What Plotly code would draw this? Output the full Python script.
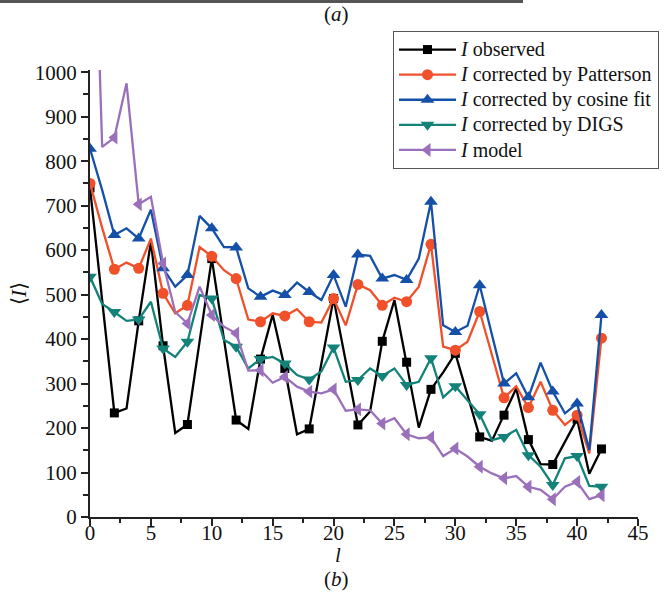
import plotly.graph_objects as go

# ---- data ----
l_vals = list(range(43))

I_observed = [740, 490, 234, 244, 441, 619, 385, 189, 208, 395,
              581, 400, 218, 198, 355, 455, 334, 186, 198, 345,
              491, 350, 207, 237, 395, 488, 348, 201, 287, 325,
              368, 275, 180, 171, 229, 289, 174, 119, 118, 169,
              220, 97, 153]

I_patterson = [750, 650, 557, 572, 559, 626, 503, 458, 476, 607,
               586, 555, 536, 444, 439, 458, 452, 467, 439, 437,
               491, 431, 523, 510, 476, 493, 484, 518, 613, 383,
               375, 394, 462, 365, 268, 294, 246, 304, 240, 207,
               229, 143, 402]

I_cosine = [828, 735, 634, 649, 626, 691, 559, 518, 544, 677,
            649, 607, 606, 514, 495, 509, 499, 527, 506, 488,
            544, 473, 590, 587, 536, 544, 533, 581, 709, 431,
            416, 430, 521, 410, 300, 323, 269, 347, 282, 233,
            255, 151, 454]

I_digs = [540, 479, 461, 441, 444, 484, 379, 360, 394, 499,
          491, 398, 383, 334, 355, 360, 345, 319, 309, 327,
          381, 304, 308, 334, 317, 334, 297, 304, 357, 269,
          294, 263, 231, 173, 180, 196, 139, 113, 72, 132,
          137, 70, 68]

I_model = [1700, 832, 853, 975, 703, 720, 570, 461, 435, 518,
           454, 428, 413, 329, 330, 302, 315, 293, 282, 278,
           287, 239, 242, 240, 210, 222, 186, 177, 179, 137,
           154, 136, 113, 98, 87, 92, 68, 61, 40, 68,
           79, 40, 49]

series_names = ["<i>I</i> observed",
                "<i>I</i> corrected by Patterson",
                "<i>I</i> corrected by cosine fit",
                "<i>I</i> corrected by DIGS",
                "<i>I</i> model"]
series_values = [I_observed, I_patterson, I_cosine, I_digs, I_model]
series_colors = ["#000000", "#F0502A", "#1450A8", "#138278", "#9B70BA"]
series_symbols = ["square", "circle", "triangle-up", "triangle-down", "triangle-left"]
series_msizes = [9, 11, 12, 12, 12]

x_ticks = [0, 5, 10, 15, 20, 25, 30, 35, 40, 45]
y_ticks = [0, 100, 200, 300, 400, 500, 600, 700, 800, 900, 1000]

FONT = "Liberation Serif"
W, H = 672, 596
L, R, T, B = 90, 34, 70, 79
PW, PH = W - L - R, H - T - B


def px_x(px):
    return (px - L) / PW


def px_y(py):
    return (H - B - py) / PH


fig = go.Figure()

for name, vals, col, sym, ms in zip(series_names, series_values, series_colors,
                                     series_symbols, series_msizes):
    # full line through every l
    fig.add_trace(go.Scatter(x=l_vals, y=vals, mode="lines",
                             line=dict(color=col, width=2.3),
                             showlegend=False, hoverinfo="skip"))
    # markers on even l
    fig.add_trace(go.Scatter(x=l_vals[::2], y=vals[::2], mode="markers",
                             marker=dict(symbol=sym, size=ms, color=col),
                             showlegend=False))
    # legend entry
    fig.add_trace(go.Scatter(x=[None], y=[None], mode="lines+markers",
                             name='<span style="font-size:20px">' + name + '</span>',
                             line=dict(color=col, width=2.3),
                             marker=dict(symbol=sym, size=ms, color=col)))

axis_common = dict(showline=True, linecolor="#222222", linewidth=2,
                   ticks="outside", ticklen=7, tickwidth=1.5, tickcolor="#222222",
                   showgrid=False, zeroline=False,
                   tickfont=dict(family=FONT, size=21, color="#111111"))

fig.update_xaxes(range=[0, 45], tickvals=x_ticks, ticklabelstandoff=-11,
                 minor=dict(dtick=2.5, ticklen=4, tickwidth=1.5, tickcolor="#222222",
                            ticks="outside", showgrid=False),
                 **axis_common)
fig.update_yaxes(range=[0, 1005], tickvals=y_ticks,
                 minor=dict(dtick=50, ticklen=5, tickwidth=1.5, tickcolor="#222222",
                            ticks="outside", showgrid=False),
                 **axis_common)

txt_font = dict(family=FONT, size=21, color="#111111")
annotations = [
    dict(text="(<i>a</i>)", x=px_x(336), y=px_y(14), xref="paper", yref="paper",
         xanchor="center", yanchor="middle", showarrow=False, font=txt_font),
    dict(text="(<i>b</i>)", x=px_x(336), y=px_y(579), xref="paper", yref="paper",
         xanchor="center", yanchor="middle", showarrow=False, font=txt_font),
    dict(text="<i>l</i>", x=px_x(338), y=px_y(555), xref="paper", yref="paper",
         xanchor="center", yanchor="middle", showarrow=False, font=txt_font),
    dict(text="⟨<i>I</i>⟩", x=px_x(19), y=px_y(294), xref="paper", yref="paper",
         xanchor="center", yanchor="middle", showarrow=False, textangle=-90,
         font=txt_font),
]

shapes = [
    dict(type="rect", xref="paper", yref="paper",
         x0=px_x(0), x1=px_x(523), y0=px_y(3), y1=px_y(0),
         fillcolor="#555555", line=dict(width=0)),
]

fig.update_layout(
    width=W, height=H,
    margin=dict(l=L, r=R, t=T, b=B, autoexpand=False),
    paper_bgcolor="white", plot_bgcolor="white",
    annotations=annotations, shapes=shapes,
    legend=dict(x=px_x(393), y=px_y(31), xanchor="left", yanchor="top",
                bgcolor="white", bordercolor="#555555", borderwidth=1,
                font=dict(family=FONT, size=17, color="#111111"),
                tracegroupgap=0, itemwidth=57),
    font=dict(family=FONT),
)

fig.write_html("out.html")
